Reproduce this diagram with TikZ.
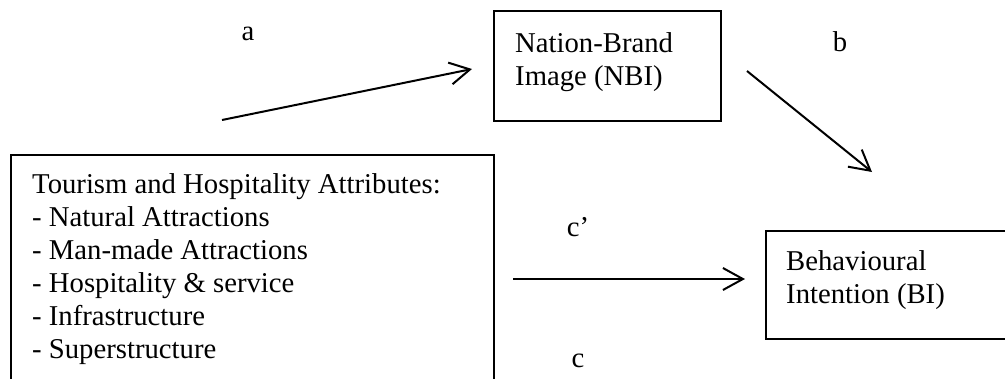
\documentclass[tikz,border=0pt]{standalone}
\usepackage{fontspec}
\setmainfont{Liberation Serif}
\usetikzlibrary{arrows.meta}
\begin{document}
\begin{tikzpicture}[x=1pt,y=-1pt,
  frame/.style={draw, line width=1.6pt, inner sep=0pt, anchor=north west},
  txt/.style={anchor=base west, inner sep=0pt, font=\fontsize{28.7}{33}\selectfont},
  lbl/.style={anchor=base, inner sep=0pt, font=\fontsize{28.7}{33}\selectfont},
  link/.style={line width=2pt, -{Straight Barb[length=20pt,width=22pt,line width=2pt]}}]
\useasboundingbox (0,0) rectangle (1005,378);
\clip (0,0) rectangle (1005,378);

% boxes
\node[frame, minimum width=227pt, minimum height=110pt] (nbi) at (493,10) {};
\node[frame, minimum width=260pt, minimum height=108pt] (bi) at (765,230) {};
\node[frame, minimum width=483pt, minimum height=260pt] (tha) at (10,154) {};

% box texts
\node[txt] (nbi1) at (515,52) {Nation-Brand};
\node[txt] (nbi2) at (515,85) {Image (NBI)};
\node[txt] (bi1) at (786,270) {Behavioural};
\node[txt] (bi2) at (786,303) {Intention (BI)};
\node[txt] (t1) at (32,193) {Tourism and Hospitality Attributes:};
\node[txt] (t2) at (32,226) {- Natural Attractions};
\node[txt] (t3) at (32,259) {- Man-made Attractions};
\node[txt] (t4) at (32,292) {- Hospitality \& service};
\node[txt] (t5) at (32,325) {- Infrastructure};
\node[txt] (t6) at (32,358) {- Superstructure};

% path labels
\node[lbl] (la) at (248,40) {a};
\node[lbl] (lb) at (840,51) {b};
\node[lbl] (lcp) at (578,236) {c’};
\node[lbl] (lc) at (578,367) {c};

% arrows
\coordinate (a0) at (222,120);
\coordinate (a1) at (472,69);
\coordinate (b0) at (747,71);
\coordinate (b1) at (872,172);
\coordinate (c0) at (513,279);
\coordinate (c1) at (745,279);
\draw[link] (a0) -- (a1);
\draw[link] (b0) -- (b1);
\draw[link] (c0) -- (c1);
\end{tikzpicture}
\end{document}
